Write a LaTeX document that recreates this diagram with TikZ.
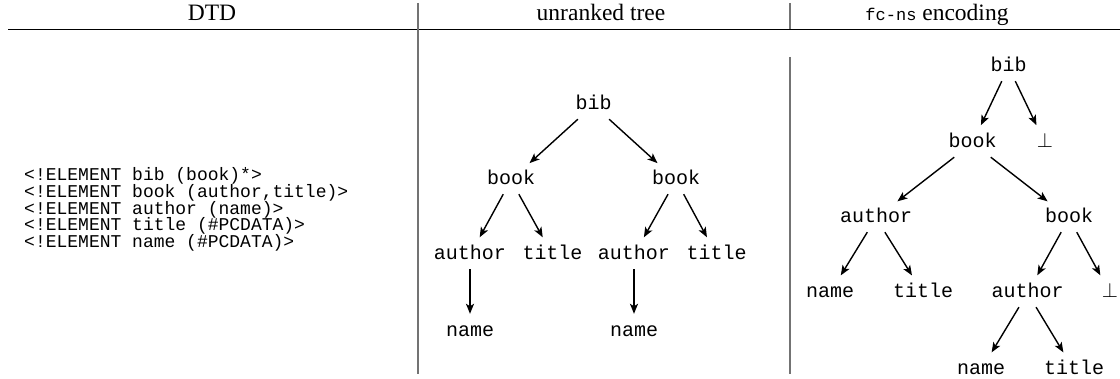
\documentclass[tikz,border=0pt]{standalone}
\usepackage{fontspec}
\setmainfont{Liberation Serif}
\setmonofont{Liberation Mono}
\usetikzlibrary{arrows.meta}
\begin{document}
\begin{tikzpicture}[x=1pt,y=-1pt,
  tn/.style={font=\ttfamily\fontsize{20}{24}\selectfont, anchor=base, inner xsep=2pt, inner ysep=5pt, text height=14pt, text depth=4pt},
  dtd/.style={font=\ttfamily\fontsize{18}{20}\selectfont, anchor=base west, inner sep=0pt},
  hd/.style={font=\fontsize{23.5}{27}\selectfont, anchor=base, inner sep=0pt},
  arr/.style={-{Stealth[length=10pt,width=8pt,inset=2.5pt]}, line width=1.4pt, shorten >=4pt},
  sep/.style={draw=black!55, line width=1.3pt},
  rule/.style={draw=black, line width=1pt}]
\useasboundingbox (0,0) rectangle (1120,379);
% headers
\node[hd] (h1) at (212,21) {DTD};
\node[hd] (h2) at (601,21) {unranked tree};
\node[hd] (h3) at (937,21) {{\ttfamily\fontsize{17}{20}\selectfont fc-ns} encoding};
\coordinate (hl) at (8,29.5);
\coordinate (hr) at (1120,29.5);
\draw[rule] (hl) -- (hr);
\coordinate (s1t) at (418,3);
\coordinate (s1b) at (418,374);
\draw[sep] (s1t) -- (s1b);
\coordinate (s2t) at (790,3);
\coordinate (s2m) at (790,29.5);
\coordinate (s2u) at (790,57);
\coordinate (s2b) at (790,374);
\draw[sep] (s2t) -- (s2m);
\draw[sep] (s2u) -- (s2b);
% DTD
\node[dtd] (d1) at (24,181) {<!ELEMENT bib (book)*>};
\node[dtd] (d2) at (24,197.7) {<!ELEMENT book (author,title)>};
\node[dtd] (d3) at (24,214.3) {<!ELEMENT author (name)>};
\node[dtd] (d4) at (24,231) {<!ELEMENT title (\#PCDATA)>};
\node[dtd] (d5) at (24,247.7) {<!ELEMENT name (\#PCDATA)>};
% unranked tree
\node[tn] (u0) at (593.5,110) {bib};
\node[tn] (u1) at (511,185) {book};
\node[tn] (u2) at (676,185) {book};
\node[tn] (u3) at (470,260) {author};
\node[tn] (u4) at (552.5,260) {title};
\node[tn] (u5) at (634,260) {author};
\node[tn] (u6) at (716.5,260) {title};
\node[tn] (u7) at (470,337) {name};
\node[tn] (u8) at (634,337) {name};
\draw[arr] (u0) -- (u1);
\draw[arr] (u0) -- (u2);
\draw[arr] (u1) -- (u3);
\draw[arr] (u1) -- (u4);
\draw[arr] (u2) -- (u5);
\draw[arr] (u2) -- (u6);
\draw[arr] (u3) -- (u7);
\draw[arr] (u5) -- (u8);
% fc-ns encoding
\node[tn] (f0) at (1008.5,72) {bib};
\node[tn] (f1) at (972.5,148) {book};
\node[tn] (f2) at (1045,148) {$\perp$};
\node[tn] (f3) at (876,223) {author};
\node[tn] (f4) at (1069,223) {book};
\node[tn] (f5) at (830,298) {name};
\node[tn] (f6) at (923,298) {title};
\node[tn] (f7) at (1027.5,298) {author};
\node[tn] (f8) at (1110,298) {$\perp$};
\node[tn] (f9) at (981,375) {name};
\node[tn] (f10) at (1074,375) {title};
\draw[arr] (f0) -- (f1);
\draw[arr] (f0) -- (f2);
\draw[arr] (f1) -- (f3);
\draw[arr] (f1) -- (f4);
\draw[arr] (f3) -- (f5);
\draw[arr] (f3) -- (f6);
\draw[arr] (f4) -- (f7);
\draw[arr] (f4) -- (f8);
\draw[arr] (f7) -- (f9);
\draw[arr] (f7) -- (f10);
\end{tikzpicture}
\end{document}
